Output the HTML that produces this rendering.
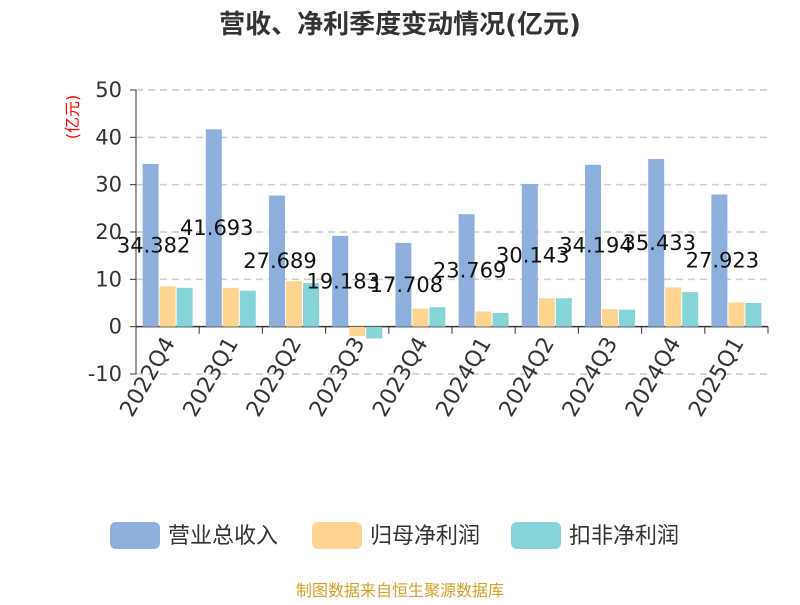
<!DOCTYPE html>
<html><head><meta charset="utf-8"><style>
body{margin:0;background:#fff}
svg text{font-family:"DejaVu Sans","Noto Sans CJK SC",sans-serif}
</style></head><body>
<svg id="chart" width="800" height="600" xmlns="http://www.w3.org/2000/svg">
<text x="400" y="33" text-anchor="middle" font-size="26" font-weight="bold" fill="#333">营收、净利季度变动情况(亿元)</text>
<text transform="translate(78,117) rotate(-90)" text-anchor="middle" font-size="16" fill="red">(亿元)</text>
<g id="grid"></g><g id="bars"></g><g id="labels"></g>
<g>
<rect x="110" y="522" width="50" height="27" rx="6" fill="#8eaedc"/>
<text x="168" y="543" font-size="22" fill="#333">营业总收入</text>
<rect x="312" y="522" width="50" height="27" rx="6" fill="#fdd591"/>
<text x="370" y="543" font-size="22" fill="#333">归母净利润</text>
<rect x="511" y="522" width="50" height="27" rx="6" fill="#85d4d8"/>
<text x="569" y="543" font-size="22" fill="#333">扣非净利润</text>
</g>
<text x="400" y="596" text-anchor="middle" font-size="16" fill="#d4a12a">制图数据来自恒生聚源数据库</text>
</svg>
<script>
const categories=["2022Q4","2023Q1","2023Q2","2023Q3","2023Q4","2024Q1","2024Q2","2024Q3","2024Q4","2025Q1"];
const revenue=[34.382,41.693,27.689,19.183,17.708,23.769,30.143,34.194,35.433,27.923];
const netProfit=[8.5,8.2,9.6,-2.0,3.8,3.2,6.0,3.7,8.3,5.1];
const deductedProfit=[8.2,7.6,9.2,-2.5,4.1,2.9,6.0,3.6,7.3,5.0];
const yTicks=[50,40,30,20,10,0,-10];
const NS="http://www.w3.org/2000/svg";
const x0=136,x1=768,yTop=90,yBot=374,vMax=50,vMin=-10;
const y=v=>yTop+(vMax-v)/(vMax-vMin)*(yBot-yTop);
const bw=(x1-x0)/categories.length;
const xc=i=>x0+bw*i+bw/2;
function mk(tag,attrs,parent){const e=document.createElementNS(NS,tag);for(const k in attrs)e.setAttribute(k,attrs[k]);parent.appendChild(e);return e;}
const grid=document.getElementById('grid'),bars=document.getElementById('bars'),labels=document.getElementById('labels');
yTicks.forEach(t=>{
 if(t!==0){const l=mk('line',{x1:x0,x2:x1,y1:y(t),y2:y(t),stroke:'#ccc','stroke-width':1.5,'stroke-dasharray':'7,5'},grid);
 
 }
 mk('line',{x1:x0-6,x2:x0,y1:y(t),y2:y(t),stroke:'#333'},grid);
 const tx=mk('text',{x:x0-14,y:y(t)+7,'text-anchor':'end','font-size':21,fill:'#333'},grid);
 tx.textContent=t;
 
 
});
mk('line',{x1:x0,x2:x0,y1:yTop,y2:yBot,stroke:'#333'},grid);
mk('line',{x1:x0,x2:x1,y1:y(0),y2:y(0),stroke:'#333','stroke-width':1.5},grid);
for(let i=0;i<=categories.length;i++)mk('line',{x1:x0+bw*i,x2:x0+bw*i,y1:y(0),y2:y(0)+7,stroke:'#333'},grid);
const series=[[revenue,'#8eaedc','revenue'],[netProfit,'#fdd591','net-profit'],[deductedProfit,'#85d4d8','deducted-profit']];
const barW=16,gap=1;
categories.forEach((c,i)=>{
 series.forEach((s,j)=>{
  const v=s[0][i];const bx=xc(i)-(3*barW+2*gap)/2+j*(barW+gap);
  const r=mk('rect',{x:bx,y:Math.min(y(v),y(0)),width:barW,height:Math.abs(y(v)-y(0)),fill:s[1]},bars);
  
  
 });
 const lb=mk('text',{x:xc(i)-14,y:y(revenue[i]/2)+7,'text-anchor':'middle','font-size':21,fill:'#111'},labels);
 lb.textContent=revenue[i].toFixed(3);
 
 
 const xl=mk('text',{transform:`translate(${xc(i)+8},${y(0)+16}) rotate(-60)`,'text-anchor':'end','font-size':22,fill:'#333'},labels);
 xl.textContent=c;
 
 
});
</script>
</body></html>
